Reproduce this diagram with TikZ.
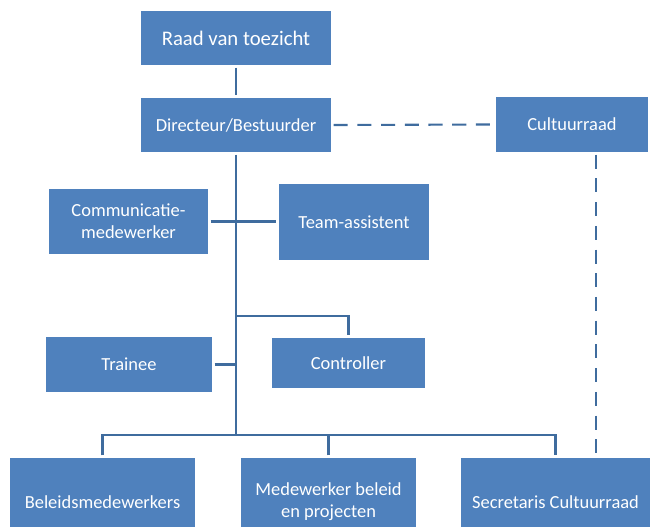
\documentclass[tikz,border=0pt]{standalone}
\usepackage{fontspec}
\setmainfont{Carlito}
\usepackage{tikz}
\usetikzlibrary{calc}
\definecolor{boxblue}{HTML}{4F81BD}
\definecolor{lineblue}{HTML}{3F6C9E}

\tikzset{
  orgbox/.style={fill=boxblue, text=white, align=center, inner sep=2pt, outer sep=1.5pt, font=\fontsize{10.5}{12.5}\selectfont},
  orgline/.style={lineblue, line width=1.2pt},
  advline/.style={lineblue, line width=1.2pt, dash pattern=on 8pt off 5.5pt}
}

\begin{document}
\begin{tikzpicture}[x=0.02cm, y=-0.02cm]

\useasboundingbox (0,0) rectangle (650,527);
\clip (0,0) rectangle (650,527);

% top of the organisation
\node[orgbox, minimum width=3.8cm, minimum height=1.08cm, font=\fontsize{11.8}{13.5}\selectfont] (raad) at (236,38) {Raad van toezicht};
\node[orgbox, minimum width=3.8cm, minimum height=1.08cm] (dir) at (236,125) {Directeur/Bestuurder};
\node[orgbox, minimum width=3.04cm, minimum height=1.1cm] (cult) at (572,124.5) {Cultuurraad};

% staff
\node[orgbox, minimum width=3.18cm, minimum height=1.3cm] (comm) at (128.5,221.5) {Communicatie-\\medewerker};
\node[orgbox, minimum width=3.0cm, minimum height=1.52cm] (team) at (354,222) {Team-assistent};
\node[orgbox, minimum width=3.32cm, minimum height=1.1cm] (trainee) at (129,364.5) {Trainee};
\node[orgbox, minimum width=3.06cm, minimum height=1.0cm] (contr) at (348.5,363) {Controller};

% bottom row
\node[orgbox, minimum width=3.7cm, minimum height=1.76cm] (bel) at (102.5,502) {Beleidsmedewerkers};
\node[orgbox, minimum width=3.5cm, minimum height=1.76cm] (mbp) at (328.5,502) {Medewerker beleid\\en projecten};
\node[orgbox, minimum width=3.78cm, minimum height=1.76cm] (sec) at (555.5,502) {Secretaris Cultuurraad};

\coordinate (ctrlfork) at (236,316);
\coordinate (bus) at (236,435);
\coordinate (cultdrop) at ($(cult.south)!0.3!(cult.south east)$);

\draw[orgline] (raad) -- (dir);
\draw[orgline] (dir.south) -- (bus);
\draw[orgline] (comm.east) -- (comm.east -| team.west);
\draw[orgline] (ctrlfork) -| (contr.north);
\draw[orgline] (trainee.east) -- (trainee.east -| bus);
\draw[orgline] (bel.north) |- (bus) -| (sec.north);
\draw[orgline] (mbp.north) -- (mbp.north |- bus);

\draw[advline] (dir.east) -- (cult.west);
\draw[advline] (cultdrop) -- (cultdrop |- sec.north);

\end{tikzpicture}
\end{document}
